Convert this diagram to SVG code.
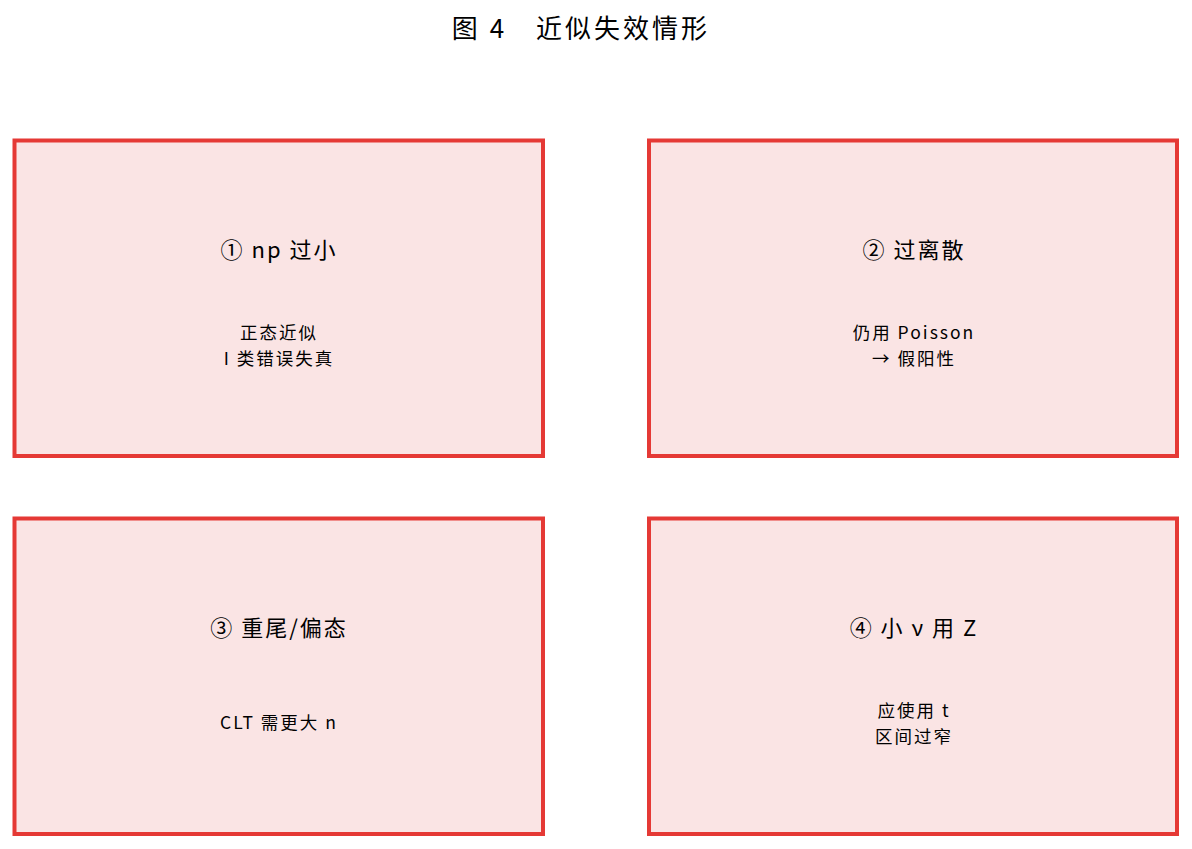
<svg xmlns="http://www.w3.org/2000/svg" width="1192" height="849" viewBox="0 0 1192 849">
<style>
.box{fill:#fae4e4;stroke:#e53935;stroke-width:4}
text{font-family:"Noto Sans CJK SC","Noto Sans",sans-serif;fill:#000;text-anchor:middle;font-weight:400}
.t{font-size:22px;letter-spacing:2px}
.b{font-size:17.5px;letter-spacing:2px}
.title{font-size:26px;letter-spacing:3px}
</style>
<rect width="1192" height="849" fill="#fff"/>
<text class="title" x="581" y="38">图 4　近似失效情形</text>
<g id="connectors"></g>
<g id="n1">
<rect class="box" x="14.5" y="140.5" width="528.5" height="315.5"/>
<text class="t" x="279" y="258">① np 过小</text>
<text class="b" x="279" y="338.5">正态近似</text>
<text class="b" x="279" y="364.5">I 类错误失真</text>
</g>
<g id="n2">
<rect class="box" x="649" y="140.5" width="528" height="315.5"/>
<text class="t" x="914" y="258">② 过离散</text>
<text class="b" x="914" y="338.5">仍用 Poisson</text>
<text class="b" x="914" y="364.5">→ 假阳性</text>
</g>
<g id="n3">
<rect class="box" x="14.5" y="518.5" width="528.5" height="315.5"/>
<text class="t" x="279" y="636">③ 重尾/偏态</text>
<text class="b" x="279" y="729">CLT 需更大 n</text>
</g>
<g id="n4">
<rect class="box" x="649" y="518.5" width="528" height="315.5"/>
<text class="t" x="914" y="636">④ 小 ν 用 Z</text>
<text class="b" x="914" y="716.5">应使用 t</text>
<text class="b" x="914" y="742.5">区间过窄</text>
</g>
</svg>
